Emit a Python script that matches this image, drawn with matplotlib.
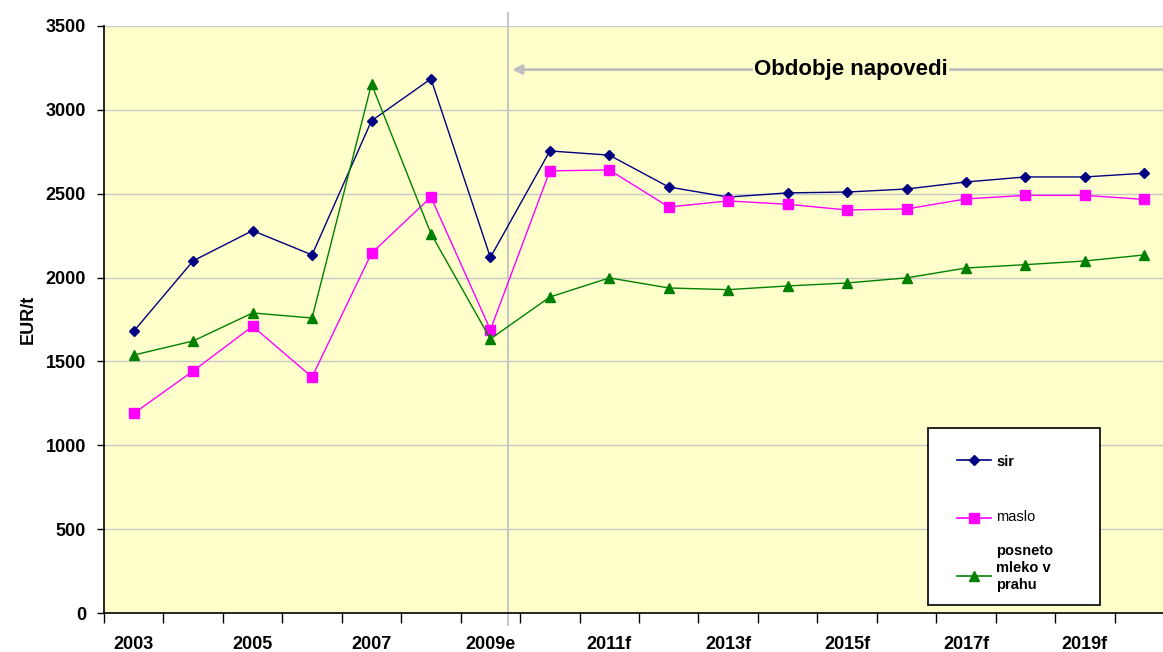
# -*- coding: utf-8 -*-
"""
Cene mlecnih izdelkov - sir, maslo, posneto mleko v prahu
"""

import matplotlib
matplotlib.use('Agg')
import matplotlib.pyplot as plt
from matplotlib.lines import Line2D
from matplotlib.patches import Rectangle

#%% Podatki
leta = ['2003', '2004', '2005', '2006', '2007', '2008', '2009e',
        '2010f', '2011f', '2012f', '2013f', '2014f', '2015f', '2016f',
        '2017f', '2018f', '2019f', '2020f']

sir = [1680, 2100, 2280, 2135, 2935, 3185, 2120,
       2755, 2730, 2540, 2480, 2505, 2510, 2528, 2570, 2600, 2600, 2622]
maslo = [1190, 1443, 1710, 1407, 2145, 2480, 1688,
         2636, 2642, 2421, 2457, 2437, 2403, 2409, 2469, 2490, 2490, 2466]
mleko_v_prahu = [1538, 1622, 1789, 1759, 3154, 2262, 1634,
                 1884, 1998, 1938, 1928, 1950, 1968, 1998, 2057, 2077, 2099, 2135]

oznake = ['sir', 'maslo', 'posneto\nmleko v\nprahu']

#%% Slika
plt.rcParams['font.family'] = ['Liberation Sans', 'DejaVu Sans']

W, H = 1163, 652
fig = plt.figure(figsize=(W / 100, H / 100), dpi=100)
ax = fig.add_axes([104 / W, 1 - 613 / H, 1070 / W, 587 / H])
ax.set_facecolor('#FFFFCC')

stili = [dict(color='#000080', marker='D', markersize=5, linewidth=1),
         dict(color='#FF00FF', marker='s', markersize=7, linewidth=1),
         dict(color='#008000', marker='^', markersize=7, linewidth=1)]

x = list(range(len(leta)))
for serija, stil in zip([sir, maslo, mleko_v_prahu], stili):
    ax.plot(x, serija, **stil)

ax.set_xlim(-0.5, len(leta) - 0.5)
ax.set_ylim(0, 3500)
ax.set_yticks(range(0, 3501, 500))
ax.grid(axis='y', color='#C8C8C8', linewidth=1)
ax.set_axisbelow(True)

# kljukice med kategorijami, oznake vsako drugo leto
ax.set_xticks([i - 0.5 for i in range(len(leta) + 1)])
ax.set_xticklabels([])
ax.set_xticks(x[::2], minor=True)
ax.set_xticklabels(leta[::2], minor=True, fontsize=13, fontweight='bold')
ax.tick_params(axis='x', which='major', length=7, width=1, direction='out')
ax.tick_params(axis='x', which='minor', length=0, pad=16.5)
ax.tick_params(axis='y', length=5, labelsize=13, width=1, pad=8)
for lab in ax.get_yticklabels():
    lab.set_fontweight('bold')

ax.spines['top'].set_visible(False)
ax.spines['right'].set_visible(False)
ax.spines['left'].set_linewidth(1.2)
ax.spines['bottom'].set_linewidth(1.2)

ax.set_ylabel('EUR/t', fontsize=13, fontweight='bold', labelpad=6)

# obdobje napovedi
meja = 6.3
ax.axvline(meja, ymin=-0.02, ymax=1.022, color='#C8C8C8', linewidth=1.5, clip_on=False, zorder=1)
ax.annotate('', xy=(meja + 0.02, 3240), xytext=(len(leta), 3240),
            arrowprops=dict(arrowstyle='-|>', color='#BEBEBE', lw=2, mutation_scale=14),
            annotation_clip=False)
ax.text(12.07, 3240, 'Obdobje napovedi', fontsize=16, fontweight='bold',
        ha='center', va='center',
        bbox=dict(facecolor='#FFFFCC', edgecolor='none', pad=1))

# legenda (rocno, v pikslih slike)
def fx(px):
    return px / W

def fy(py):
    return 1 - py / H

fig.add_artist(Rectangle((fx(928), fy(605)), fx(1100) - fx(928), fy(428) - fy(605),
                         transform=fig.transFigure, facecolor='white',
                         edgecolor='black', linewidth=1.2, zorder=5))
vrstice_y = [460, 518, 576]
besedilo_y = [462, 517, 568]
teze = ['bold', 'normal', 'bold']
for stil, oznaka, ly, ty, teza in zip(stili, oznake, vrstice_y, besedilo_y, teze):
    fig.add_artist(Line2D([fx(957), fx(991)], [fy(ly), fy(ly)], color=stil['color'],
                          linewidth=1.2, transform=fig.transFigure, zorder=6))
    fig.add_artist(Line2D([fx(974)], [fy(ly)], color=stil['color'], marker=stil['marker'],
                          markersize=stil['markersize'], linestyle='none',
                          transform=fig.transFigure, zorder=7))
    fig.text(fx(996), fy(ty), oznaka, fontsize=10.5, fontweight=teza, ha='left',
             va='center', linespacing=1.3, zorder=7)

fig.savefig('out.png', dpi=100)
